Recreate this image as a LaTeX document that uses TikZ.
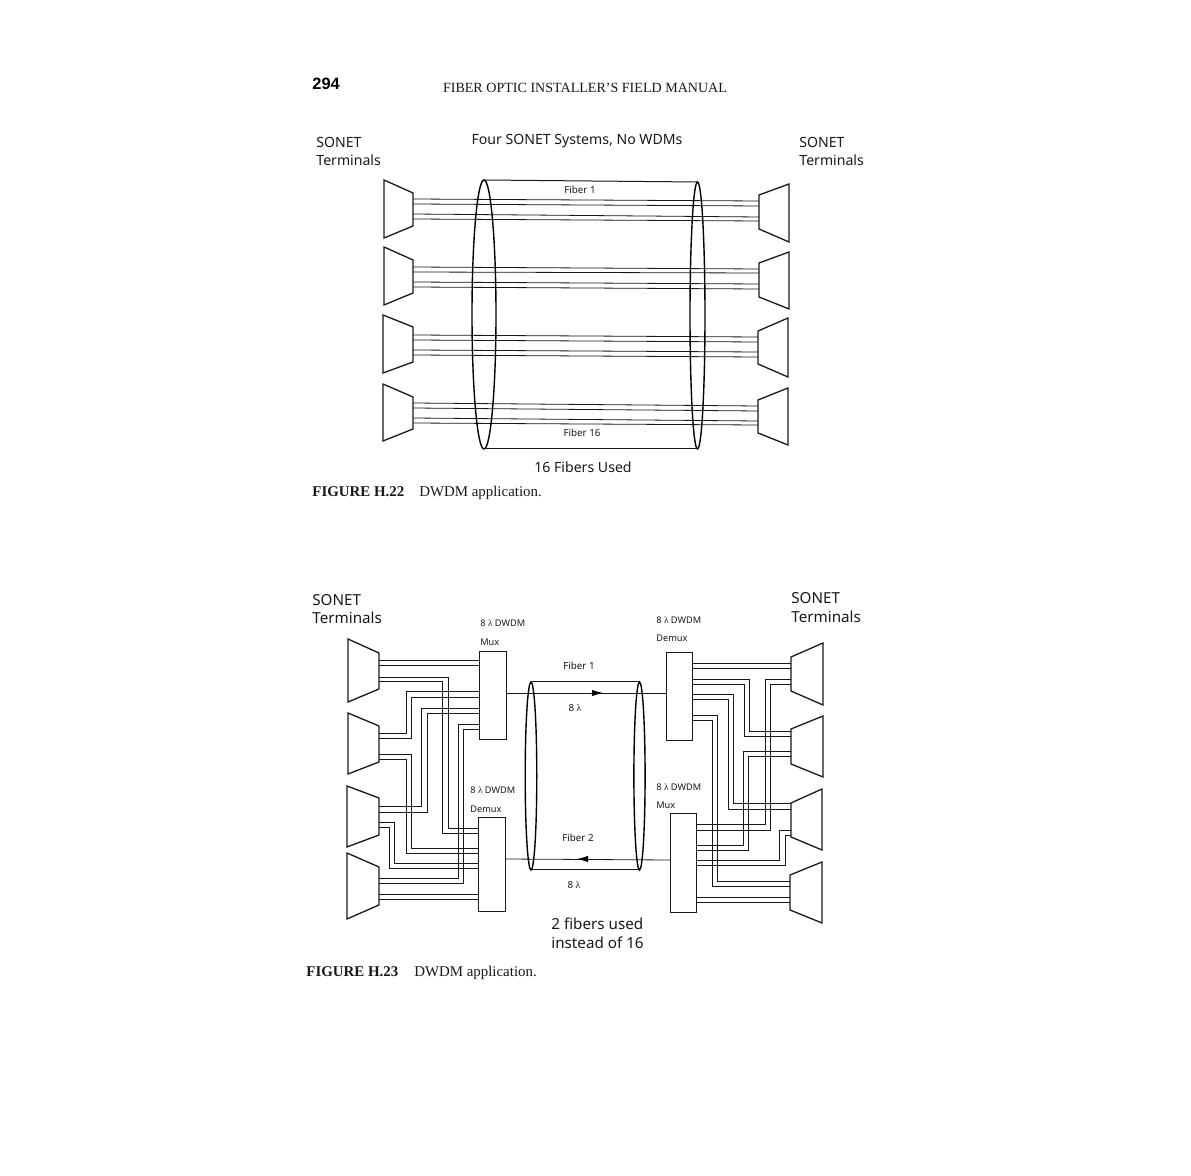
\documentclass[tikz,border=0pt]{standalone}
\usepackage{fontspec}
\setmainfont{Liberation Serif}
\setsansfont{Noto Sans}
\usetikzlibrary{fit,shapes.geometric,arrows.meta}
\newfontfamily\boldhead{Liberation Sans}
\newcommand\lam{\textrm{λ}}
\tikzset{
  fib/.style={line width=0.4pt,black!90},
  termline/.style={line width=0.65pt,black!90,line join=miter},
  anchorbox/.style={inner sep=0pt,outer sep=0pt,minimum size=0pt},
  wdmbox/.style={draw,line width=0.42pt,black!90,inner sep=0pt,outer sep=0pt,minimum size=0pt},
  cable/.style={ellipse,draw,line width=0.7pt,inner sep=0pt,outer sep=0pt,black},
  shell/.style={line width=0.5pt,black!90},
  lab/.style={font=\sffamily\fontsize{7.05}{9.5}\selectfont,inner sep=0pt,anchor=west,black!90},
  labb/.style={font=\sffamily\fontsize{7.6}{9.5}\selectfont,inner sep=0pt,anchor=west,black!90},
  tinylab/.style={font=\sffamily\fontsize{4.6}{5}\selectfont,inner sep=0pt,black!90},
  fiblab/.style={font=\sffamily\fontsize{4.9}{5}\selectfont,inner sep=0pt,black!90},
  captxt/.style={font=\fontsize{7.45}{9}\selectfont,inner sep=0pt,anchor=west,black!90},
  dirarrow/.style={-{Latex[length=5.5pt,width=3.2pt]},line width=0.4pt,black}
}
% name, narrow-side x, top, bottom, wide-side x, top, bottom
\newcommand\terminal[7]{%
  \node[anchorbox,fit={(#2,#3) (#2,#4)}] (#1) {};
  \draw[termline] (#2,#3) -- (#5,#6) -- (#5,#7) -- (#2,#4) -- cycle;
}
\begin{document}
\begin{tikzpicture}[x=0.5pt,y=-0.5pt]
\useasboundingbox (0,0) rectangle (1191,1176);
\fill[white] (0,0) rectangle (1191,1176);

% page head
\node[inner sep=0pt,anchor=west,font=\boldhead\bfseries\fontsize{8.2}{9}\selectfont] (pg) at (312,84) {294};
\node[captxt,anchor=center,font=\fontsize{7.03}{9}\selectfont] (hd) at (585,88) {FIBER OPTIC INSTALLER'S FIELD MANUAL};

% ---------- Figure H.22 ----------
\node[lab] (a1) at (316,142) {SONET};
\node[lab] (a2) at (316,160) {Terminals};
\node[lab] (a3) at (799,142) {SONET};
\node[lab] (a4) at (799,160) {Terminals};
\node[lab,anchor=center] (a5) at (577,141) {Four SONET Systems, No WDMs};
\node[lab,anchor=center] (a6) at (583,467) {16 Fibers Used};
\node[fiblab] (a7) at (580,190) {Fiber 1};
\node[fiblab] (a8) at (582,433) {Fiber 16};
\node[captxt] (c1) at (312,493) {\textbf{FIGURE H.22}\hspace{7.5pt}DWDM application.};

\terminal{L1}{413}{193}{226}{384}{180}{238}
\terminal{L2}{413}{260}{293}{384}{247}{305}
\terminal{L3}{413}{327}{362}{383}{315}{373}
\terminal{L4}{413}{397}{429}{383}{384}{441}
\terminal{R1}{759}{195}{229}{789}{184}{242}
\terminal{R2}{759}{263}{297}{789}{252}{309}
\terminal{R3}{758}{331}{364}{788}{318}{377}
\terminal{R4}{758}{400}{433}{788}{388}{445}

\draw[fib] (L1.east |- 0,199) -- (R1.west |- 0,201);
\draw[fib] (L1.east |- 0,204) -- (R1.west |- 0,206);
\draw[fib] (L1.east |- 0,214) -- (R1.west |- 0,217);
\draw[fib] (L1.east |- 0,219) -- (R1.west |- 0,221);
\draw[fib] (L2.east |- 0,267) -- (R2.west |- 0,269);
\draw[fib] (L2.east |- 0,272) -- (R2.west |- 0,273);
\draw[fib] (L2.east |- 0,282) -- (R2.west |- 0,284);
\draw[fib] (L2.east |- 0,287) -- (R2.west |- 0,289);
\draw[fib] (L3.east |- 0,335) -- (R3.west |- 0,337);
\draw[fib] (L3.east |- 0,340) -- (R3.west |- 0,342);
\draw[fib] (L3.east |- 0,350) -- (R3.west |- 0,352);
\draw[fib] (L3.east |- 0,355) -- (R3.west |- 0,357);
\draw[fib] (L4.east |- 0,403) -- (R4.west |- 0,406);
\draw[fib] (L4.east |- 0,408) -- (R4.west |- 0,411);
\draw[fib] (L4.east |- 0,418) -- (R4.west |- 0,421);
\draw[fib] (L4.east |- 0,423) -- (R4.west |- 0,425);

\node[cable,minimum width=12pt,minimum height=134.5pt] (e1) at (484,314.5) {};
\node[cable,minimum width=7.5pt,minimum height=133.5pt] (e2) at (697.5,315.5) {};
\draw[shell] (e1.north) -- (e2.north);
\draw[shell] (e1.south) -- (e2.south);

% ---------- Figure H.23 ----------
\node[labb] (b1) at (312,600) {SONET};
\node[labb] (b2) at (312,618) {Terminals};
\node[labb] (b3) at (791,598) {SONET};
\node[labb] (b4) at (791,617) {Terminals};
\node[tinylab,anchor=west] (b5) at (480,623) {8 \lam{} DWDM};
\node[tinylab,anchor=west] (b6) at (480,642) {Mux};
\node[tinylab,anchor=west] (b7) at (470,790) {8 \lam{} DWDM};
\node[tinylab,anchor=west] (b8) at (470,809) {Demux};
\node[tinylab,anchor=west] (b9) at (656,620) {8 \lam{} DWDM};
\node[tinylab,anchor=west] (b10) at (656,638) {Demux};
\node[tinylab,anchor=west] (b11) at (656,787) {8 \lam{} DWDM};
\node[tinylab,anchor=west] (b12) at (656,805) {Mux};
\node[fiblab] (b13) at (579,666) {Fiber 1};
\node[fiblab] (b14) at (575,708) {8 \lam};
\node[fiblab] (b15) at (578,838) {Fiber 2};
\node[fiblab] (b16) at (574,885) {8 \lam};
\node[labb] (b17) at (551,924) {2 fibers used};
\node[labb] (b18) at (551,943) {instead of 16};
\node[captxt] (c2) at (306,973) {\textbf{FIGURE H.23}\hspace{8pt}DWDM application.};

\node[wdmbox,fit={(479,651) (506,739)}] (mux) {};
\node[wdmbox,fit={(478,817) (505,911)}] (dmx) {};
\node[wdmbox,fit={(666,652) (692,740)}] (rdmx) {};
\node[wdmbox,fit={(670,813) (696,912)}] (rmux) {};

\terminal{A}{379}{653}{689}{348}{639}{702}
\terminal{B}{379}{726}{762}{348}{713}{774}
\terminal{C}{379}{798}{835}{347}{786}{847}
\terminal{D}{379}{867}{905}{347}{853}{919}
\terminal{P}{791}{657}{691}{823}{643}{705}
\terminal{Q}{791}{729}{764}{823}{716}{777}
\terminal{S}{791}{803}{837}{822}{789}{850}
\terminal{T}{790}{875}{910}{822}{862}{923}

% left side
\draw[fib] (A.east |- 0,660) -- (mux.west |- 0,660);
\draw[fib] (A.east |- 0,665) -- (mux.west |- 0,665);
\draw[fib] (A.east |- 0,677) -| (448,828) -- (dmx.west |- 0,828);
\draw[fib] (A.east |- 0,681) -| (442,833) -- (dmx.west |- 0,833);
\draw[fib] (B.east |- 0,733) -| (406,691) -- (mux.west |- 0,691);
\draw[fib] (B.east |- 0,738) -| (411,697) -- (mux.west |- 0,697);
\draw[fib] (B.east |- 0,754) -| (411,848) -- (dmx.west |- 0,848);
\draw[fib] (B.east |- 0,759) -| (406,853) -- (dmx.west |- 0,853);
\draw[fib] (C.east |- 0,806) -| (421,708) -- (mux.west |- 0,708);
\draw[fib] (C.east |- 0,812) -| (427,713) -- (mux.west |- 0,713);
\draw[fib] (C.east |- 0,822) -| (394,863) -- (dmx.west |- 0,863);
\draw[fib] (C.east |- 0,827) -| (389,868) -- (dmx.west |- 0,868);
\draw[fib] (D.east |- 0,878) -| (458,724) -- (mux.west |- 0,724);
\draw[fib] (D.east |- 0,883) -| (463,729) -- (mux.west |- 0,729);
\draw[fib] (D.east |- 0,894) -- (dmx.west |- 0,894);
\draw[fib] (D.east |- 0,899) -- (dmx.west |- 0,899);

% right side
\draw[fib] (rdmx.east |- 0,663) -- (P.west |- 0,663);
\draw[fib] (rdmx.east |- 0,668) -- (P.west |- 0,668);
\draw[fib] (rdmx.east |- 0,679) -| (749,731) -- (Q.west |- 0,731);
\draw[fib] (rdmx.east |- 0,684) -| (744,736) -- (Q.west |- 0,736);
\draw[fib] (rdmx.east |- 0,694) -| (733,803) -- (S.west |- 0,803);
\draw[fib] (rdmx.east |- 0,699) -| (728,809) -- (S.west |- 0,809);
\draw[fib] (rdmx.east |- 0,715) -| (717,881) -- (T.west |- 0,881);
\draw[fib] (rdmx.east |- 0,720) -| (712,886) -- (T.west |- 0,886);
\draw[fib] (rmux.east |- 0,824) -| (765,679) -- (P.west |- 0,679);
\draw[fib] (rmux.east |- 0,830) -| (770,684) -- (P.west |- 0,684);
\draw[fib] (rmux.east |- 0,845) -| (743,751) -- (Q.west |- 0,751);
\draw[fib] (rmux.east |- 0,850) -| (748,756) -- (Q.west |- 0,756);
\draw[fib] (rmux.east |- 0,860) -| (779,830) -- (S.west |- 0,830);
\draw[fib] (rmux.east |- 0,865) -| (785,835) -- (S.west |- 0,835);
\draw[fib] (rmux.east |- 0,897) -- (T.west |- 0,897);
\draw[fib] (rmux.east |- 0,902) -- (T.west |- 0,902);

% trunk
\draw[fib] (mux.east |- 0,693) -- (rdmx.west |- 0,693);
\draw[fib] (dmx.east |- 0,859) -- (rmux.west |- 0,860);
\coordinate (ar1) at (590,693);
\coordinate (ar1e) at (603,693);
\coordinate (ar2) at (590,859);
\coordinate (ar2e) at (577,859);
\draw[dirarrow] (ar1) -- (ar1e);
\draw[dirarrow] (ar2) -- (ar2e);

\node[cable,minimum width=5.8pt,minimum height=94pt] (e3) at (531,776) {};
\node[cable,minimum width=5.6pt,minimum height=94pt] (e4) at (639.5,776) {};
\draw[shell] (e3.north) -- (e4.north);
\draw[shell] (e3.south) -- (e4.south);
\end{tikzpicture}
\end{document}
